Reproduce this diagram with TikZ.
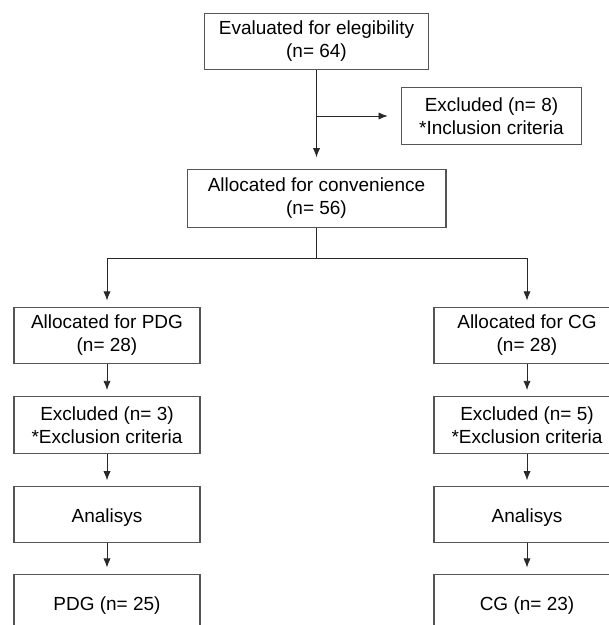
\documentclass[tikz,border=0pt]{standalone}
\usepackage{fontspec}
\setmainfont{Liberation Sans}
\usepackage{tikz}
\usetikzlibrary{positioning,arrows.meta}
\definecolor{boxGray}{RGB}{85, 85, 85}
\definecolor{lineGray}{RGB}{40, 40, 40}

\begin{document}
\begin{tikzpicture}
  [
    x=0.025cm, y=-0.025cm,
    >={Latex[length=2.3mm, width=1.8mm]},
    Box/.style={rectangle, draw=boxGray, line width=0.8pt, align=center, inner sep=0pt,
      minimum height=1.42cm, font=\fontsize{13.5}{16.3}\selectfont,
      execute at begin node={\rule{0pt}{14pt}}},
    Wide/.style={Box, minimum width=5.62cm},
    Side/.style={Box, minimum width=4.65cm},
    Link/.style={->, draw=lineGray, line width=0.6pt, shorten >=1.5mm}
  ]
  \useasboundingbox (0,0) rectangle (609,625);
  \clip (0,0) rectangle (609,625);
  % Nodes
  \node[Wide] (eval) at(316.5, 41.5) {Evaluated for elegibility\\(n= 64)};
  \node[Box, minimum width=4.52cm] (excl) at(491.5, 116) {Excluded (n= 8)\\*Inclusion criteria};
  \node[Box, minimum width=6.47cm, minimum height=1.47cm] (alloc) at(316.5, 198.5) {Allocated for convenience\\(n= 56)};

  \node[Side] (pdgAlloc) at(107, 335.5) {Allocated for PDG\\(n= 28)};
  \node[Side] (pdgExcl) at(107, 425) {Excluded (n= 3)\\*Exclusion criteria};
  \node[Side, minimum height=1.38cm] (pdgAnal) at(107, 514.5) {Analisys};
  \node[Side] (pdgEnd) at(107, 602.5) {PDG (n= 25)};

  \node[Side] (cgAlloc) at(527, 335.5) {Allocated for CG\\(n= 28)};
  \node[Side] (cgExcl) at(527, 425) {Excluded (n= 5)\\*Exclusion criteria};
  \node[Side, minimum height=1.38cm] (cgAnal) at(527, 514.5) {Analisys};
  \node[Side] (cgEnd) at(527, 602.5) {CG (n= 23)};

  \coordinate (branch) at(eval.south |- excl.west);
  \coordinate (split) at(316.5, 258);

% Lines
  \path [Link, shorten >=2.8mm] (eval) -- (alloc);
  \path [Link, shorten >=3.2mm] (branch) -- (excl);
  \path [draw=lineGray, line width=0.6pt] (alloc) -- (split);
  \path [Link] (split) -| (pdgAlloc);
  \path [Link] (split) -| (cgAlloc);

  \path [Link] (pdgAlloc) -- (pdgExcl);
  \path [Link] (pdgExcl) -- (pdgAnal);
  \path [Link] (pdgAnal) -- (pdgEnd);

  \path [Link] (cgAlloc) -- (cgExcl);
  \path [Link] (cgExcl) -- (cgAnal);
  \path [Link] (cgAnal) -- (cgEnd);
\end{tikzpicture}
\end{document}
